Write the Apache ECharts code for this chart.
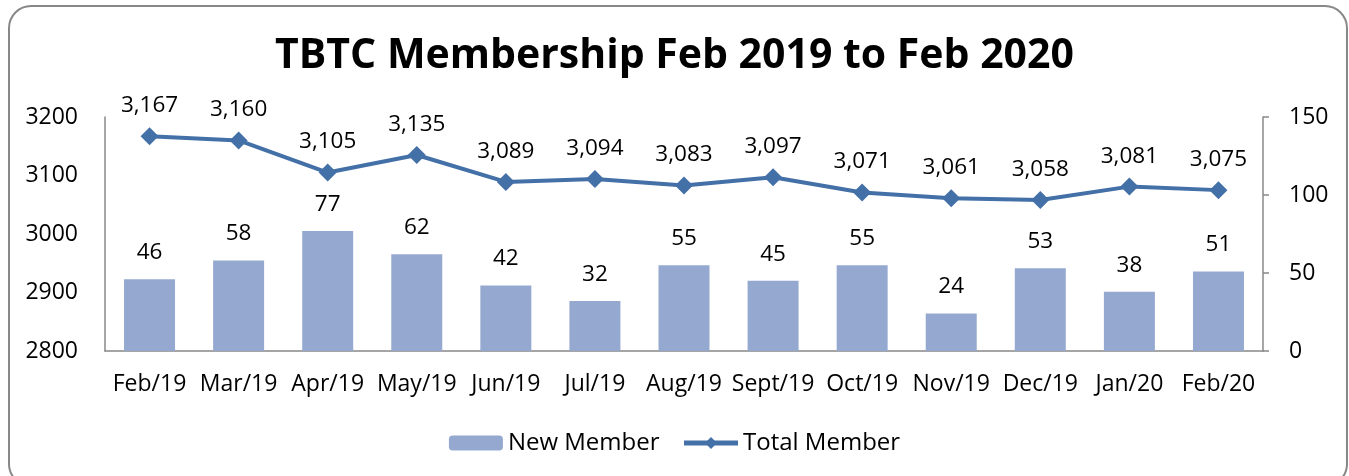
<!DOCTYPE html>
<html>
<head>
<meta charset="utf-8">
<script src="https://cdn.jsdelivr.net/npm/echarts@6/dist/echarts.min.js"></script>
<style>
html,body{margin:0;padding:0;background:#fff;}
#c{width:1349px;height:476px;}
</style>
</head>
<body>
<div id="c"></div>
<script>
const categories = ['Feb/19','Mar/19','Apr/19','May/19','Jun/19','Jul/19','Aug/19','Sept/19','Oct/19','Nov/19','Dec/19','Jan/20','Feb/20'];
const newMember = [46,58,77,62,42,32,55,45,55,24,53,38,51];
const totalMember = [3167,3160,3105,3135,3089,3094,3083,3097,3071,3061,3058,3081,3075];
const leftTicks = [2800,2900,3000,3100,3200];
const rightTicks = [0,50,100,150];

const FONT = 'Open Sans';
const chart = echarts.init(document.getElementById('c'), null, {renderer:'canvas'});
function comma(v){return String(v).replace(/\B(?=(\d{3})+(?!\d))/g, ',');}
chart.setOption({
  animation:false,
  textStyle:{fontFamily:FONT, color:'#000'},
  graphic:[{
    type:'rect', left:8, top:5, z:-10, silent:true,
    shape:{width:1338, height:480, r:22},
    style:{fill:'#fff', stroke:'#888', lineWidth:2}
  }],
  title:{
    text:'TBTC Membership Feb 2019 to Feb 2020',
    left:'center', top:31,
    textStyle:{fontFamily:FONT, fontWeight:'bold', fontSize:41, color:'#000'}
  },
  legend:{
    bottom:16, left:'center',
    itemWidth:54, itemHeight:15, itemGap:22,
    textStyle:{fontFamily:FONT, fontSize:24, color:'#000'},
    data:[{name:'New Member'},{name:'Total Member', lineStyle:{width:5}}]
  },
  grid:{left:105, right:86, top:117, bottom:125},
  xAxis:{
    type:'category', data:categories,
    axisLine:{lineStyle:{color:'#888', width:1.5}},
    axisTick:{show:false},
    axisLabel:{fontFamily:FONT, fontSize:23, color:'#000', margin:22, interval:0}
  },
  yAxis:[{
    type:'value', min:leftTicks[0], max:leftTicks[leftTicks.length-1], interval:100,
    position:'left',
    axisLine:{show:true, lineStyle:{color:'#888', width:1.5}},
    axisTick:{show:false},
    splitLine:{show:false},
    axisLabel:{fontFamily:FONT, fontSize:23, color:'#000', margin:27, formatter:v=>String(v)}
  },{
    type:'value', min:rightTicks[0], max:rightTicks[rightTicks.length-1], interval:50,
    position:'right',
    axisLine:{show:true, lineStyle:{color:'#888', width:1.5}},
    axisTick:{show:true, inside:false, length:6, lineStyle:{color:'#888', width:1.5}},
    splitLine:{show:false},
    axisLabel:{fontFamily:FONT, fontSize:23, color:'#000', margin:26}
  }],
  series:[{
    name:'New Member', type:'bar', yAxisIndex:1, data:newMember,
    barWidth:51,
    itemStyle:{color:'#95A9D0'},
    label:{show:true, position:'top', distance:15, fontFamily:FONT, fontSize:22.5, color:'#000'},
    z:2
  },{
    name:'Total Member', type:'line', yAxisIndex:0, data:totalMember,
    symbol:'diamond', symbolSize:18,
    lineStyle:{color:'#4470A8', width:4},
    itemStyle:{color:'#4470A8'},
    label:{show:true, position:'top', distance:10, fontFamily:FONT, fontSize:22.5, color:'#000', formatter:p=>comma(p.value)},
    z:3
  }]
});
</script>
</body>
</html>
